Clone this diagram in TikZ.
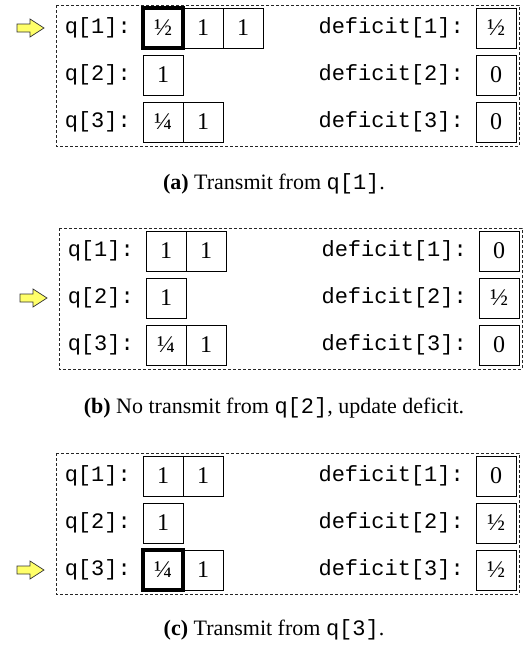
\documentclass[tikz,border=0pt]{standalone}
\usepackage{fontspec}
\setmainfont{Liberation Serif}
\setmonofont{Liberation Mono}
\definecolor{ptrfill}{RGB}{255,255,105}
\tikzset{
  cell/.style={draw, line width=0.9pt, minimum width=40pt, minimum height=40pt, inner sep=0pt, font=\fontsize{24}{24}\selectfont},
  hot/.style={cell, line width=3.2pt},
  lbl/.style={font=\fontsize{22}{22}\ttfamily, anchor=east, inner sep=0pt},
  frame/.style={draw=black!85, dash pattern=on 3pt off 2pt, line width=0.8pt},
  pointer/.style={fill=ptrfill, draw=black!80, line width=0.7pt, line join=miter},
  captext/.style={font=\fontsize{22}{26}\selectfont, anchor=base, inner sep=0pt}
}
\newcommand\ptrat[1]{\draw[pointer] (17,#1-4) -- (30,#1-4) -- (30,#1-9) -- (44,#1) -- (30,#1+9) -- (30,#1+4) -- (17,#1+4) -- cycle;}
\begin{document}
\begin{tikzpicture}[x=1pt,y=-1pt]
\useasboundingbox (0,0) rectangle (525,648);

% ---------- panel (a)
\begin{scope}[shift={(0,5)}]
  \draw[frame] (56,0) rectangle (519,141);
  \ptrat{23}
  \node[lbl] (a-ql1) at (131,23) {q[1]:};
  \node[lbl] (a-ql2) at (131,70) {q[2]:};
  \node[lbl] (a-ql3) at (131,117) {q[3]:};
  \node[cell] (a-q12) at (203,23) {1};
  \node[cell] (a-q13) at (243,23) {1};
  \node[hot]  (a-q11) at (163,23) {½};
  \node[cell] (a-q21) at (163,70) {1};
  \node[cell] (a-q31) at (163,117) {¼};
  \node[cell] (a-q32) at (203,117) {1};
  \node[lbl] (a-dl1) at (464,23) {deficit[1]:};
  \node[lbl] (a-dl2) at (464,70) {deficit[2]:};
  \node[lbl] (a-dl3) at (464,117) {deficit[3]:};
  \node[cell] (a-d1) at (496,23) {½};
  \node[cell] (a-d2) at (496,70) {0};
  \node[cell] (a-d3) at (496,117) {0};
\end{scope}
\node[captext] (a-cap) at (274,189) {\textbf{(a)} Transmit from \texttt{q[1]}.};

% ---------- panel (b)
\begin{scope}[shift={(3,228)}]
  \draw[frame] (56,0) rectangle (519,141);
  \ptrat{70}
  \node[lbl] (b-ql1) at (131,23) {q[1]:};
  \node[lbl] (b-ql2) at (131,70) {q[2]:};
  \node[lbl] (b-ql3) at (131,117) {q[3]:};
  \node[cell] (b-q11) at (163,23) {1};
  \node[cell] (b-q12) at (203,23) {1};
  \node[cell] (b-q21) at (163,70) {1};
  \node[cell] (b-q31) at (163,117) {¼};
  \node[cell] (b-q32) at (203,117) {1};
  \node[lbl] (b-dl1) at (464,23) {deficit[1]:};
  \node[lbl] (b-dl2) at (464,70) {deficit[2]:};
  \node[lbl] (b-dl3) at (464,117) {deficit[3]:};
  \node[cell] (b-d1) at (496,23) {0};
  \node[cell] (b-d2) at (496,70) {½};
  \node[cell] (b-d3) at (496,117) {0};
\end{scope}
\node[captext] (b-cap) at (274,413) {\textbf{(b)} No transmit from \texttt{q[2]}, update deficit.};

% ---------- panel (c)
\begin{scope}[shift={(0,453)}]
  \draw[frame] (56,0) rectangle (519,141);
  \ptrat{117}
  \node[lbl] (c-ql1) at (131,23) {q[1]:};
  \node[lbl] (c-ql2) at (131,70) {q[2]:};
  \node[lbl] (c-ql3) at (131,117) {q[3]:};
  \node[cell] (c-q11) at (163,23) {1};
  \node[cell] (c-q12) at (203,23) {1};
  \node[cell] (c-q21) at (163,70) {1};
  \node[cell] (c-q32) at (203,117) {1};
  \node[hot]  (c-q31) at (163,117) {¼};
  \node[lbl] (c-dl1) at (464,23) {deficit[1]:};
  \node[lbl] (c-dl2) at (464,70) {deficit[2]:};
  \node[lbl] (c-dl3) at (464,117) {deficit[3]:};
  \node[cell] (c-d1) at (496,23) {0};
  \node[cell] (c-d2) at (496,70) {½};
  \node[cell] (c-d3) at (496,117) {½};
\end{scope}
\node[captext] (c-cap) at (274,635) {\textbf{(c)} Transmit from \texttt{q[3]}.};
\end{tikzpicture}
\end{document}
